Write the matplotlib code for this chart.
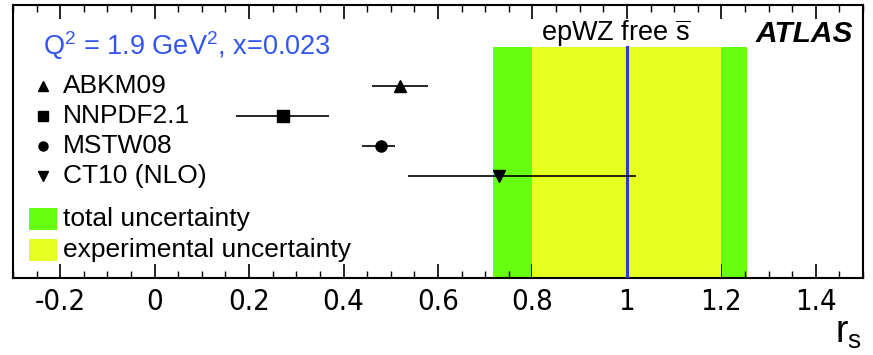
#%%
# 1. Imports
import numpy as np
import matplotlib
matplotlib.use('Agg')
import matplotlib.pyplot as plt
from matplotlib.patches import Rectangle
from matplotlib.ticker import MultipleLocator
from matplotlib import font_manager

plt.rcParams['font.family'] = ['Liberation Sans', 'DejaVu Sans']
plt.rcParams['mathtext.fontset'] = 'custom'
plt.rcParams['mathtext.rm'] = 'Liberation Sans'
plt.rcParams['mathtext.it'] = 'Liberation Sans:italic'

# narrow font for tick labels if there is one
names = set(f.name for f in font_manager.fontManager.ttflist)
print(sorted(n for n in names if 'Cond' in n or 'Narrow' in n))

# %%
# 2. Data
pdf_names = ['ABKM09', 'NNPDF2.1', 'MSTW08', 'CT10 (NLO)']
pdf_markers = ['^', 's', 'o', 'v']
pdf_rs = [0.519, 0.272, 0.480, 0.729]
pdf_lo = [0.460, 0.173, 0.440, 0.536]
pdf_hi = [0.578, 0.370, 0.508, 1.020]
pdf_rows = [3, 2, 1, 0]

fit_central = 1.0
exp_band = (0.80, 1.20)
tot_band = (0.717, 1.255)

xticks = [-0.2, 0, 0.2, 0.4, 0.6, 0.8, 1.0, 1.2, 1.4]
xticklabels = ['-0.2', '0', '0.2', '0.4', '0.6', '0.8', '1', '1.2', '1.4']

GREEN = '#66ff11'
YELLOW = '#e6ff22'

# %%
# 3. Figure
fig = plt.figure(figsize=(8.73, 3.55), dpi=100)
ax = fig.add_axes([13/873, 77/355, 850/873, 273/355])
ax.set_xlim(-0.3, 1.5)
ax.set_ylim(-3.4, 5.7)
band_top = 4.3
frac_top = (band_top + 3.4) / 9.1

# uncertainty bands + central value
ax.axvspan(tot_band[0], tot_band[1], ymax=frac_top, color=GREEN, lw=0, zorder=1)
ax.axvspan(exp_band[0], exp_band[1], ymax=frac_top, color=YELLOW, lw=0, zorder=2)
ax.axvline(fit_central, ymax=frac_top, color='#2a3fcf', lw=2.2, zorder=3)

# PDF predictions
msizes = [8, 8.5, 8, 8]
for name, m, x, lo, hi, r, ms in zip(pdf_names, pdf_markers, pdf_rs, pdf_lo, pdf_hi, pdf_rows, msizes):
    ax.errorbar(x, r, xerr=[[x - lo], [hi - x]], fmt=m, color='black', ms=ms,
                elinewidth=1.2, capsize=0, zorder=5)
    # legend entry in same row
    ax.plot(0.035, r, m, color='black', ms=6.5, transform=ax.get_yaxis_transform(), clip_on=False)
    ax.text(0.059, r, name, transform=ax.get_yaxis_transform(), fontsize=19, va='center', ha='left')

# band legend
for r, c, lab in [(-1.43, GREEN, 'total uncertainty'), (-2.47, YELLOW, 'experimental uncertainty')]:
    ax.add_patch(Rectangle((0.019, r - 0.36), 0.033, 0.72, facecolor=c, edgecolor='none',
                           transform=ax.get_yaxis_transform()))
    ax.text(0.059, r, lab, transform=ax.get_yaxis_transform(), fontsize=19, va='center', ha='left')

ax.text(0.035, 4.33, r'Q$\mathregular{^2}$ = 1.9 GeV$\mathregular{^2}$, x=0.023',
        transform=ax.get_yaxis_transform(), fontsize=19.5, color='#3355ee', va='center', ha='left')
ax.text(616/873, 1 - 33/355, r'epWZ free $\mathregular{\overline{s}}$', transform=fig.transFigure,
        fontsize=19.5, ha='center', va='center')
ax.text(853/873, 1 - 34/355, 'ATLAS', transform=fig.transFigure, fontsize=21.5,
        fontweight='bold', fontstyle='italic', ha='right', va='center')

# %%
# 4. Axes styling
ax.set_xticks(xticks)
ax.set_xticklabels(xticklabels, family=['DejaVu Sans'], fontstretch='condensed', fontsize=21)
ax.xaxis.set_minor_locator(MultipleLocator(0.05))
ax.tick_params(axis='x', which='both', direction='in', top=True, bottom=True, pad=7)
ax.tick_params(axis='x', which='major', length=10, width=1.2)
ax.tick_params(axis='x', which='minor', length=5, width=1.0)
ax.set_yticks([])
for s in ax.spines.values():
    s.set_linewidth(1.5)

fig.text(848/873, 1 - 333/355, r'r$\mathregular{_s}$', fontsize=27, ha='center', va='center')

fig.savefig('out.png', dpi=100)
